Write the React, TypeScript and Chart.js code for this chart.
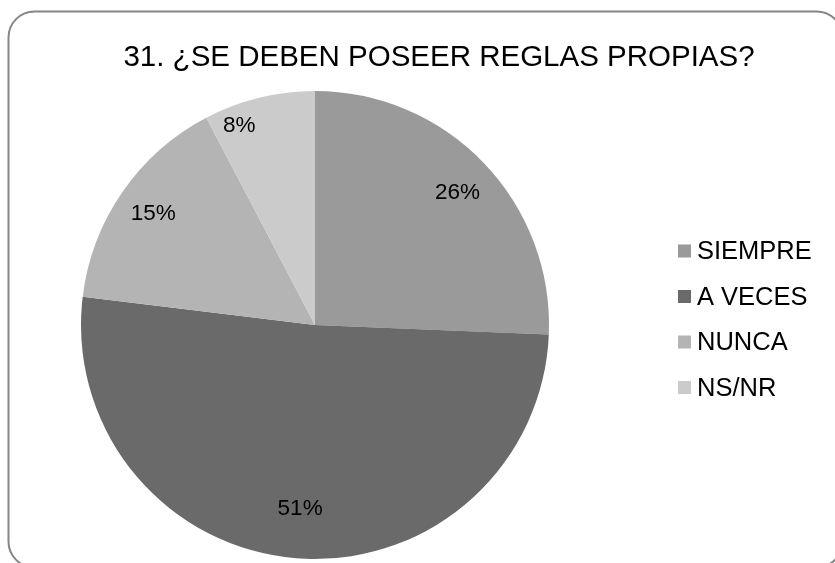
import React, { useEffect, useRef } from "react";
import { Chart, registerables } from "chart.js";

Chart.register(...registerables);

const title = "31. ¿SE DEBEN POSEER REGLAS PROPIAS?";
const categories = ["SIEMPRE", "A VECES", "NUNCA", "NS/NR"];
// respondent counts (labels show the rounded shares)
const values = [10, 20, 6, 3];
const colors = ["#9a9a9a", "#6a6a6a", "#b4b4b4", "#cbcbcb"];

const W = 835;
const H = 563;

const framePlugin = {
  id: "frame",
  beforeDraw(chart: any) {
    const ctx = chart.ctx;
    ctx.save();
    ctx.fillStyle = "#ffffff";
    ctx.fillRect(0, 0, chart.width, chart.height);
    const x = 8.5, y = 11.5, w = 834, h = 556, r = 26;
    ctx.beginPath();
    ctx.moveTo(x + r, y);
    ctx.lineTo(x + w - r, y);
    ctx.arcTo(x + w, y, x + w, y + r, r);
    ctx.lineTo(x + w, y + h - r);
    ctx.arcTo(x + w, y + h, x + w - r, y + h, r);
    ctx.lineTo(x + r, y + h);
    ctx.arcTo(x, y + h, x, y + h - r, r);
    ctx.lineTo(x, y + r);
    ctx.arcTo(x, y, x + r, y, r);
    ctx.closePath();
    ctx.strokeStyle = "#868686";
    ctx.lineWidth = 2;
    ctx.stroke();
    ctx.restore();
  },
};

const decorPlugin = {
  id: "decor",
  afterDraw(chart: any) {
    const ctx = chart.ctx;
    ctx.save();
    // Title
    ctx.fillStyle = "#000000";
    ctx.font = '29.5px "Liberation Sans", Arial, sans-serif';
    ctx.textAlign = "center";
    ctx.textBaseline = "middle";
    ctx.fillText(title, 439, 58);

    // Legend
    ctx.textAlign = "left";
    ctx.font = '25.5px "Liberation Sans", Arial, sans-serif';
    const meta = chart.getDatasetMeta(0);
    categories.forEach((c, i) => {
      const cy = 251 + i * 45.5;
      ctx.fillStyle = colors[i];
      ctx.fillRect(678, cy - 6.5, 13, 13);
      ctx.fillStyle = "#000000";
      ctx.fillText(c, 697, cy + 1);
    });

    // Percent labels
    const total = values.reduce((a, b) => a + b, 0);
    const place = [
      { rf: 0.83, da: 1 },
      { rf: 0.79, da: 0 },
      { rf: 0.84, da: 0 },
      { rf: 0.91, da: -7 },
    ];
    ctx.font = '22.5px "Liberation Sans", Arial, sans-serif';
    ctx.textAlign = "center";
    meta.data.forEach((arc: any, i: number) => {
      const p = arc.getProps(["x", "y", "startAngle", "endAngle", "outerRadius"], true);
      const mid = (p.startAngle + p.endAngle) / 2 + (place[i].da * Math.PI) / 180;
      const r = p.outerRadius * place[i].rf;
      const lx = p.x + Math.cos(mid) * r;
      const ly = p.y + Math.sin(mid) * r;
      const pct = Math.round((values[i] / total) * 100) + "%";
      ctx.fillStyle = "#000000";
      ctx.fillText(pct, lx, ly);
    });
    ctx.restore();
  },
};

export default function App() {
  const ref = useRef<HTMLCanvasElement | null>(null);
  useEffect(() => {
    if (!ref.current) return;
    const chart = new Chart(ref.current, {
      type: "pie",
      data: {
        labels: categories,
        datasets: [
          {
            data: values,
            backgroundColor: colors,
            borderWidth: 0,
          },
        ],
      },
      options: {
        animation: false,
        responsive: false,
        maintainAspectRatio: false,
        devicePixelRatio: 1,
        layout: { padding: { top: 91, bottom: 4, left: 81, right: 286 } },
        plugins: {
          legend: { display: false },
          title: { display: false },
          tooltip: { enabled: false },
        },
      },
      plugins: [framePlugin, decorPlugin],
    });
    return () => chart.destroy();
  }, []);
  return (
    <div style={{ position: "fixed", left: 0, top: 0, width: W, height: H, overflow: "hidden" }}>
      <canvas ref={ref} width={W} height={H} style={{ display: "block", width: W, height: H }} />
    </div>
  );
}
